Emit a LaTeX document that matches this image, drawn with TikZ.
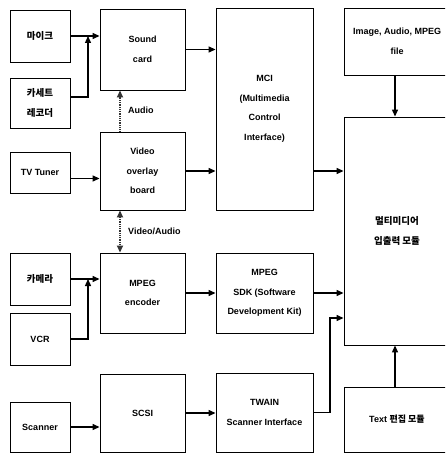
\documentclass[tikz,border=0pt]{standalone}
\usepackage{fontspec}
\setmainfont{Liberation Sans}
\newfontfamily\kr{Noto Sans CJK KR}
\usetikzlibrary{arrows.meta,calc}
\tikzset{
  box/.style={draw, line width=0.9pt, rectangle, inner sep=0pt, align=center,
    font=\fontsize{9}{19.5}\selectfont\bfseries},
  arr/.style={line width=1.3pt, -{Triangle[length=7pt,width=6pt]}},
  dbl/.style={draw=black!80, line width=1.6pt, dash pattern=on 1pt off 0.8pt,
    -{Triangle[length=7pt,width=6pt,sep=0pt]}},
  dbl2/.style={dbl, {Triangle[length=7pt,width=6pt]}-{Triangle[length=7pt,width=6pt]}},
  lbl/.style={anchor=west, inner sep=0pt, font=\fontsize{9}{11}\selectfont\bfseries},
  krt/.style={font=\fontsize{9.5}{19.5}\selectfont\kr\bfseries}
}
\begin{document}
\begin{tikzpicture}[x=1pt,y=-1pt]
\useasboundingbox (0,0) rectangle (445,454);
\clip (0,0) rectangle (445,454);
% left column
\node[box,krt,minimum width=60,minimum height=52] (mic) at (40,36) {마이크};
\node[box,krt,minimum width=60,minimum height=50] (cas) at (40,103) {카세트\\레코더};
\node[box,minimum width=60,minimum height=41] (tv) at (40,172.5) {TV Tuner};
\node[box,krt,minimum width=60,minimum height=52] (cam) at (40,279) {카메라};
\node[box,minimum width=60,minimum height=52] (vcr) at (40,339) {VCR};
\node[box,minimum width=60,minimum height=50] (scan) at (40,427) {Scanner};
% second column
\node[box,minimum width=85,minimum height=81] (snd) at (142.5,49.5) {Sound\\card};
\node[box,minimum width=85,minimum height=78] (vo) at (142.5,171) {Video\\overlay\\board};
\node[box,minimum width=85,minimum height=80] (enc) at (142.5,293) {MPEG\\encoder};
\node[box,minimum width=85,minimum height=78] (scsi) at (142.5,413) {SCSI};
% third column
\node[box,minimum width=97,minimum height=202] (mci) at (264.5,109) {MCI\\(Multimedia\\Control\\Interface)};
\node[box,minimum width=97,minimum height=80] (sdk) at (264.5,293) {MPEG\\SDK (Software\\Development Kit)};
\node[box,minimum width=97,minimum height=79] (twain) at (264.5,412.5) {TWAIN\\Scanner Interface};
% right column
\node[box,minimum width=106,minimum height=67] (file) at (397,41.5) {Image, Audio, MPEG\\file};
\node[box,krt,minimum width=106,minimum height=228] (mm) at (397,231) {멀티미디어\\입출력 모듈};
\node[box,minimum width=106,minimum height=65] (txt) at (397,419.5) {Text {\kr 편집 모듈}};
% junctions
\coordinate (j1) at (88,36);
\coordinate (j2) at (88,279);
\coordinate (j3) at (330,318);
% connectors
\draw[arr] (mic.east) -- (mic.east -| snd.west);
\draw[arr] ([yshift=6pt]cas.east) -| (j1);
\draw[arr] (snd.east) -- (snd.east -| mci.west);
\draw[arr] ([yshift=-6pt]tv.east) -- ([yshift=-6pt]tv.east -| vo.west);
\draw[arr] (vo.east) -- (vo.east -| mci.west);
\draw[arr] (mci.east |- vo.east) -- (mm.west |- vo.east);
\draw[arr] (cam.east) -- (cam.east -| enc.west);
\draw[arr] (vcr.east) -| (j2);
\draw[arr] (enc.east) -- (enc.east -| sdk.west);
\draw[arr] (sdk.east) -- (sdk.east -| mm.west);
\draw[arr] (scan.east) -- (scan.east -| scsi.west);
\draw[arr] (scsi.east) -- (scsi.east -| twain.west);
\draw[arr] (twain.east) -| (j3) -- (j3 -| mm.west);
\draw[arr] ([xshift=-2pt]file.south) -- ([xshift=-2pt]mm.north);
\draw[arr] ([xshift=-2pt]txt.north) -- ([xshift=-2pt]mm.south);
\draw[dbl] ([xshift=-22.5pt]vo.north) -- ([xshift=-22.5pt]snd.south);
\draw[dbl2] ([xshift=-22.5pt]vo.south) -- ([xshift=-22.5pt]enc.north);
\node[lbl] (la) at (128,110) {Audio};
\node[lbl] (lva) at (128,231) {Video/Audio};
\end{tikzpicture}
\end{document}
